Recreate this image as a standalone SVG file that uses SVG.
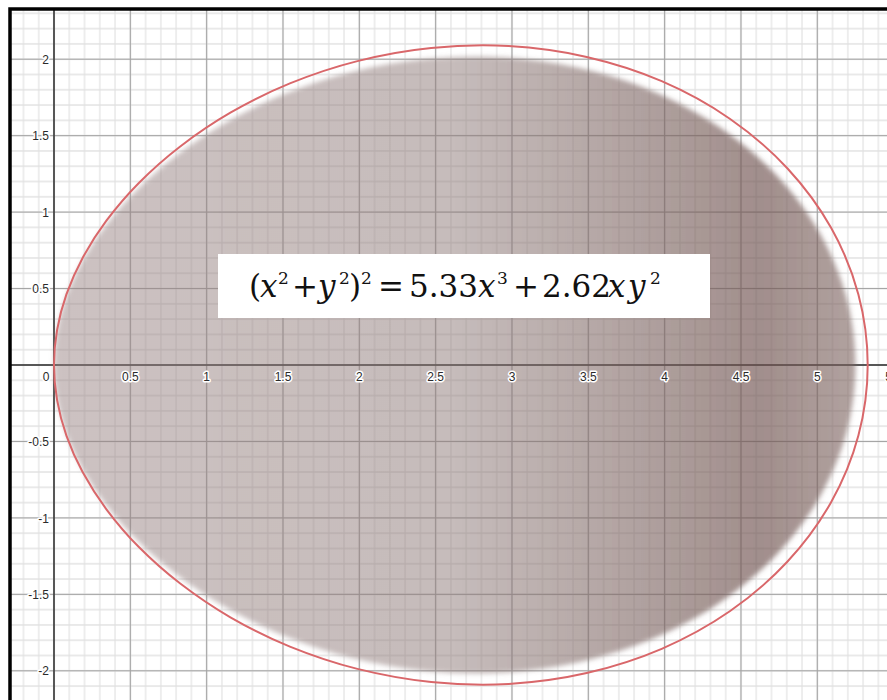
<svg xmlns="http://www.w3.org/2000/svg" width="887" height="700" viewBox="0 0 887 700">
<style>
.lbl{font-family:"Liberation Sans",Arial,sans-serif;font-size:12px;fill:#2a2a2a;stroke:#fff;stroke-width:3px;paint-order:stroke;stroke-linejoin:round}
.ylbl{text-anchor:end}
.xlbl{text-anchor:middle}
.eq{font-family:"DejaVu Serif","Liberation Serif",serif;font-size:31px;fill:#111}
.it{font-style:italic}
.sup{font-size:17px}
</style>
<defs>
<pattern id="minor" x="46.367" y="357.355" width="15.266" height="15.29" patternUnits="userSpaceOnUse">
<path d="M7.633 0V15.29M0 7.645H15.266" stroke="#e2e2e2" stroke-width="1.2" fill="none"/>
</pattern>
<pattern id="major" x="15.835" y="326.775" width="76.33" height="76.45" patternUnits="userSpaceOnUse">
<path d="M38.165 0V76.45M0 38.225H76.33" stroke="#a2a2a2" stroke-width="1.1" fill="none"/>
</pattern>
<linearGradient id="shade" x1="0" y1="0" x2="1" y2="0">
<stop offset="0" stop-color="rgb(150,128,128)" stop-opacity="0.48"/>
<stop offset="0.5" stop-color="rgb(140,120,118)" stop-opacity="0.5"/>
<stop offset="0.88" stop-color="rgb(112,84,80)" stop-opacity="0.66"/>
<stop offset="1" stop-color="rgb(125,100,96)" stop-opacity="0.6"/>
</linearGradient>
<filter id="blur" x="-5%" y="-5%" width="110%" height="110%">
<feGaussianBlur stdDeviation="2.6"/>
</filter>
<path id="curve" d="M867.7 365 C867.7 341.5 864.5 317.37 858.4 294.5 C852.3 271.63 842.95 248.85 831.1 227.8 C819.25 206.75 804.18 186.38 787.3 168.2 C770.42 150.02 750.73 133.2 729.8 118.7 C708.87 104.2 685.55 91.48 661.7 81.2 C637.85 70.92 612.2 62.85 586.7 57 C561.2 51.15 534.62 47.6 508.7 46.1 C482.78 44.6 456.42 45.5 431.2 48 C405.98 50.5 380.95 55.2 357.4 61.1 C333.85 67 311.07 74.8 289.9 83.4 C268.73 92 248.73 102.15 230.4 112.7 C212.07 123.25 195.2 134.95 179.9 146.7 C164.6 158.45 150.85 170.87 138.6 183.2 C126.35 195.53 115.73 208.25 106.4 220.7 C97.07 233.15 89.27 245.62 82.6 257.9 C75.93 270.18 70.65 282.4 66.4 294.4 C62.15 306.4 59.17 318.13 57.1 329.9 C55.03 341.67 54 353.3 54 365 C54 376.7 55.03 388.33 57.1 400.1 C59.17 411.87 62.15 423.6 66.4 435.6 C70.65 447.6 75.93 459.82 82.6 472.1 C89.27 484.38 97.07 496.85 106.4 509.3 C115.73 521.75 126.35 534.47 138.6 546.8 C150.85 559.13 164.6 571.55 179.9 583.3 C195.2 595.05 212.07 606.75 230.4 617.3 C248.73 627.85 268.73 638 289.9 646.6 C311.07 655.2 333.85 663 357.4 668.9 C380.95 674.8 405.98 679.5 431.2 682 C456.42 684.5 482.78 685.4 508.7 683.9 C534.62 682.4 561.2 678.85 586.7 673 C612.2 667.15 637.85 659.08 661.7 648.8 C685.55 638.52 708.87 625.8 729.8 611.3 C750.73 596.8 770.42 579.98 787.3 561.8 C804.18 543.62 819.25 523.25 831.1 502.2 C842.95 481.15 852.3 458.37 858.4 435.5 C864.5 412.63 867.7 388.5 867.7 365 Z"/>
</defs>
<rect x="0" y="0" width="887" height="700" fill="#fff"/>
<g id="grid">
<rect x="10" y="9" width="877" height="691" fill="url(#minor)"/>
<rect x="10" y="9" width="877" height="691" fill="url(#major)"/>
</g>
<g id="axes">
<path d="M54 9V700M10 365H887" stroke="#333" stroke-width="1.5" fill="none"/>
</g>
<g id="region">
<use href="#curve" fill="url(#shade)" filter="url(#blur)" transform="translate(54 365) scale(0.985 0.965) translate(-54 -365)"/>
</g>
<g id="curve-line">
<use href="#curve" fill="none" stroke="#d9676a" stroke-width="2"/>
</g>
<g id="y-labels">
<text class="lbl ylbl" x="49" y="63.5">2</text>
<text class="lbl ylbl" x="49" y="140">1.5</text>
<text class="lbl ylbl" x="49" y="216.5">1</text>
<text class="lbl ylbl" x="49" y="293">0.5</text>
<text class="lbl ylbl" x="49" y="446">-0.5</text>
<text class="lbl ylbl" x="49" y="522.5">-1</text>
<text class="lbl ylbl" x="49" y="599">-1.5</text>
<text class="lbl ylbl" x="49" y="675.3">-2</text>
</g>
<g id="x-labels">
<text class="lbl xlbl" x="46" y="381">0</text>
<text class="lbl xlbl" x="130.3" y="381">0.5</text>
<text class="lbl xlbl" x="206.7" y="381">1</text>
<text class="lbl xlbl" x="283" y="381">1.5</text>
<text class="lbl xlbl" x="359.3" y="381">2</text>
<text class="lbl xlbl" x="435.7" y="381">2.5</text>
<text class="lbl xlbl" x="512" y="381">3</text>
<text class="lbl xlbl" x="588.3" y="381">3.5</text>
<text class="lbl xlbl" x="664.6" y="381">4</text>
<text class="lbl xlbl" x="741" y="381">4.5</text>
<text class="lbl xlbl" x="817.3" y="381">5</text>
<text class="lbl xlbl" x="893.6" y="381">5.5</text>
</g>
<g id="equation">
<rect x="218" y="254" width="492" height="64" fill="#fff"/>
<text class="eq" y="297"><tspan x="249">(</tspan><tspan class="it" x="260">x</tspan><tspan class="sup" x="278" y="284">2</tspan><tspan x="292" y="297">+</tspan><tspan class="it" x="318">y</tspan><tspan class="sup" x="339" y="284">2</tspan><tspan x="349" y="297">)</tspan><tspan class="sup" x="361" y="284">2</tspan><tspan x="378" y="297">=</tspan><tspan x="409">5.33</tspan><tspan class="it" x="478">x</tspan><tspan class="sup" x="497" y="284">3</tspan><tspan x="513" y="297">+</tspan><tspan x="542">2.62</tspan><tspan class="it" x="608">x</tspan><tspan class="it" x="628">y</tspan><tspan class="sup" x="650" y="284">2</tspan></text>
</g>
<g id="frame">
<path d="M10 700V9H887" stroke="#000" stroke-width="3.5" fill="none"/>
</g>
</svg>
